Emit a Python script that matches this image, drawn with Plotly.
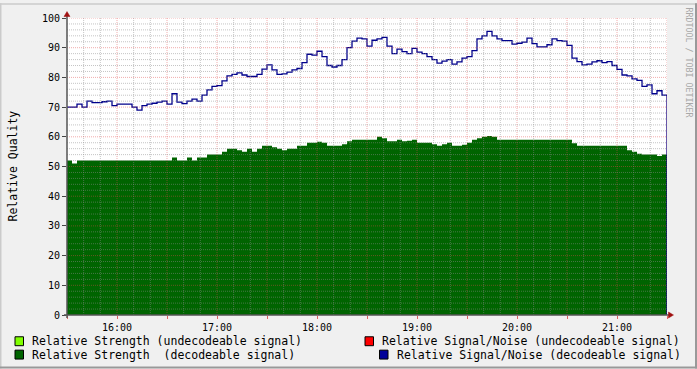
import plotly.graph_objects as go
import pandas as pd

# ---------------- data ----------------
START = "2024-01-01 15:30"
END = "2024-01-01 21:30"
STEP = "3min"

# Relative Strength (decodeable signal), one value per 3-minute step
strength = (
    [52, 51] + [52] * 19 +
    [53, 52, 52, 53, 52, 53, 53, 54, 54, 54, 55, 56, 56, 55.5, 55, 56, 55, 56,
     57, 57, 56.5, 56, 55.5, 56, 56, 57, 57, 58, 58, 58.3, 58, 57, 57, 57, 57.5,
     58.5, 59, 59, 59, 59, 59, 60, 59.5, 58.5, 58.5, 59, 58.5, 58.7, 59, 58, 58,
     58, 57.5, 57, 57.5, 58, 57, 57, 57.3, 58, 59, 59.5, 60, 60.3, 60, 59] +
    [59] * 14 + [57.8] + [57] * 10 +
    [55.5, 55, 54.3, 54, 54, 54, 53.5, 54, 54]
)

# Relative Signal/Noise (decodeable signal)
snr = [
    70, 70, 71, 70, 72, 71.5, 71.5, 71.8, 72, 70.5,
    71, 71, 71, 70, 69, 70.5, 71, 71.3, 71.7, 72,
    71, 74.5, 71.7, 71.2, 72, 72.7, 72, 74, 75.8, 77,
    77.2, 78.8, 80.5, 81, 81.5, 80.8, 80.3, 80.3, 81, 82.8,
    84.2, 82.5, 81, 81.2, 81.8, 82.5, 83, 85, 87.8, 87.5,
    88.8, 87, 84, 83.5, 84, 86, 90, 92.2, 93.2, 93,
    90.5, 92.5, 93, 93.5, 90.5, 88, 89.5, 88.7, 88, 89.8,
    88.5, 88, 87, 86, 84.8, 85.5, 86, 84.5, 85.2, 86.5,
    87, 89, 93, 94, 95.5, 94, 93, 92.4, 92.4, 91.2,
    91.5, 91.9, 93.2, 91.4, 90.3, 90.3, 91, 93, 92.4, 92.2,
    90.8, 86.5, 85.3, 84.2, 84.5, 85.2, 85.6, 85, 85.3, 84,
    82.7, 80.8, 80.5, 79.5, 79, 77, 77.5, 74.5, 75.5, 74,
    0,
]

y_ticks = list(range(0, 101, 10))
legend_items = [
    ("Relative Strength (undecodeable signal)", "#80ff00"),
    ("Relative Strength  (decodeable signal)", "#006400"),
    ("Relative Signal/Noise (undecodeable signal)", "#ff0000"),
    ("Relative Signal/Noise (decodeable signal)", "#000099"),
]

times = pd.date_range(START, periods=len(snr), freq=STEP)

MONO = "DejaVu Sans Mono"
W, H = 697, 369
L, R, T, B = 67, 667, 15, 315  # plot area in pixels


def px(x):
    return (x - L) / (R - L)


def py(y):
    return (B - y) / (B - T)


fig = go.Figure()
fig.add_trace(go.Scatter(
    x=times, y=strength, mode="lines", line=dict(shape="hv", width=0, color="#006400"),
    fill="tozeroy", fillcolor="#006400", name=legend_items[1][0], showlegend=False,
))
fig.add_trace(go.Scatter(
    x=times, y=snr, mode="lines", line=dict(shape="hv", width=1.3, color="#00008b"),
    name=legend_items[3][0], showlegend=False,
))

MAJOR_COL = "rgba(225,70,70,0.45)"
MINOR_COL = "rgba(140,140,140,0.50)"

shapes = []
# grid drawn over the data (as RRDtool does)
t0 = pd.Timestamp(START)
for m in range(10, 361, 10):
    t = t0 + pd.Timedelta(minutes=m)
    major = m % 30 == 0
    shapes.append(dict(
        type="line", xref="x", yref="paper", x0=t, x1=t, y0=0, y1=1, layer="above",
        line=dict(color=MAJOR_COL if major else MINOR_COL, width=1, dash="1px,1px"),
    ))
for v in range(2, 101, 2):
    major = v % 10 == 0
    shapes.append(dict(
        type="line", xref="paper", yref="y", x0=0, x1=1, y0=v, y1=v, layer="above",
        line=dict(color=MAJOR_COL if major else MINOR_COL, width=1, dash="1px,1px"),
    ))

# axes lines and arrows
axis_col = "#555555"
arrow_col = "#a01010"
shapes.append(dict(type="line", xref="paper", yref="paper", x0=px(67), x1=px(67),
                   y0=py(318), y1=py(11), line=dict(color=axis_col, width=1.5), layer="above"))
shapes.append(dict(type="line", xref="paper", yref="paper", x0=px(64), x1=px(670),
                   y0=py(315), y1=py(315), line=dict(color=axis_col, width=1.5), layer="above"))
shapes.append(dict(type="path", xref="paper", yref="paper",
                   path=f"M {px(64)} {py(13.5)} L {px(70)} {py(13.5)} L {px(67)} {py(8.5)} Z",
                   fillcolor=arrow_col, line=dict(color=arrow_col, width=0.5), layer="above"))
shapes.append(dict(type="path", xref="paper", yref="paper",
                   path=f"M {px(668.5)} {py(312)} L {px(668.5)} {py(318)} L {px(673.5)} {py(315)} Z",
                   fillcolor=arrow_col, line=dict(color=arrow_col, width=0.5), layer="above"))

# frame around the image
shapes.append(dict(type="line", xref="paper", yref="paper", x0=px(0), x1=px(W),
                   y0=py(0.75), y1=py(0.75), line=dict(color="#cbcbcb", width=1.5)))
shapes.append(dict(type="line", xref="paper", yref="paper", x0=px(0.75), x1=px(0.75),
                   y0=py(0), y1=py(H), line=dict(color="#cbcbcb", width=1.5)))
shapes.append(dict(type="line", xref="paper", yref="paper", x0=px(0), x1=px(W),
                   y0=py(H - 1), y1=py(H - 1), line=dict(color="#999999", width=2)))
shapes.append(dict(type="line", xref="paper", yref="paper", x0=px(W - 1), x1=px(W - 1),
                   y0=py(0), y1=py(H), line=dict(color="#999999", width=2)))

annotations = []
# legend (two columns, as in RRDtool)
legend_pos = [
    (15, 341.5, 30),   # square x, row y, text x
    (15, 355, 30),
    (365, 341.5, 380),
    (379.5, 355, 394.5),
]
for (label, col), (sx, ry, tx) in zip(legend_items, legend_pos):
    shapes.append(dict(type="rect", xref="paper", yref="paper",
                       x0=px(sx), x1=px(sx + 8.5), y0=py(ry - 4.5), y1=py(ry + 4.5),
                       fillcolor=col, line=dict(color="#000000", width=1)))
    annotations.append(dict(xref="paper", yref="paper", x=px(tx), y=py(ry), text=label,
                            showarrow=False, xanchor="left", yanchor="middle",
                            font=dict(family=MONO, size=11.5, color="#000000")))

annotations.append(dict(xref="paper", yref="paper", x=px(12), y=py(165), text="Relative Quality",
                        textangle=-90, showarrow=False, xanchor="center", yanchor="middle",
                        font=dict(family=MONO, size=11.5, color="#000000")))
annotations.append(dict(xref="paper", yref="paper", x=px(689), y=py(60),
                        text="RRDTOOL / TOBI OETIKER", textangle=90, showarrow=False,
                        xanchor="center", yanchor="middle",
                        font=dict(family=MONO, size=8.3, color="#a8a8a8")))

x_tickvals = pd.date_range(START, END, freq="30min")
x_ticktext = [t.strftime("%H:%M") if t.minute == 0 else "" for t in x_tickvals]

fig.update_layout(
    width=W, height=H, autosize=False,
    margin=dict(l=L, r=W - R, t=T, b=H - B, pad=0),
    paper_bgcolor="#f0f0f0", plot_bgcolor="#ffffff",
    showlegend=False, hovermode=False,
    shapes=shapes, annotations=annotations,
    xaxis=dict(type="date", range=[START, END], showgrid=False, zeroline=False, showline=False,
               tickvals=x_tickvals, ticktext=x_ticktext, ticks="outside", ticklen=3,
               tickcolor="rgba(220,60,60,0.8)", fixedrange=True,
               tickfont=dict(family=MONO, size=10, color="#000000")),
    yaxis=dict(range=[0, 100], showgrid=False, zeroline=False, showline=False,
               tickvals=y_ticks, ticks="outside", ticklen=4, tickcolor="#444444", fixedrange=True,
               tickfont=dict(family=MONO, size=10, color="#000000")),
)

fig.write_html(
    "out.html",
    config={"displayModeBar": False, "staticPlot": True},
    post_script="document.body.style.margin='0';document.body.style.overflow='hidden';",
)
